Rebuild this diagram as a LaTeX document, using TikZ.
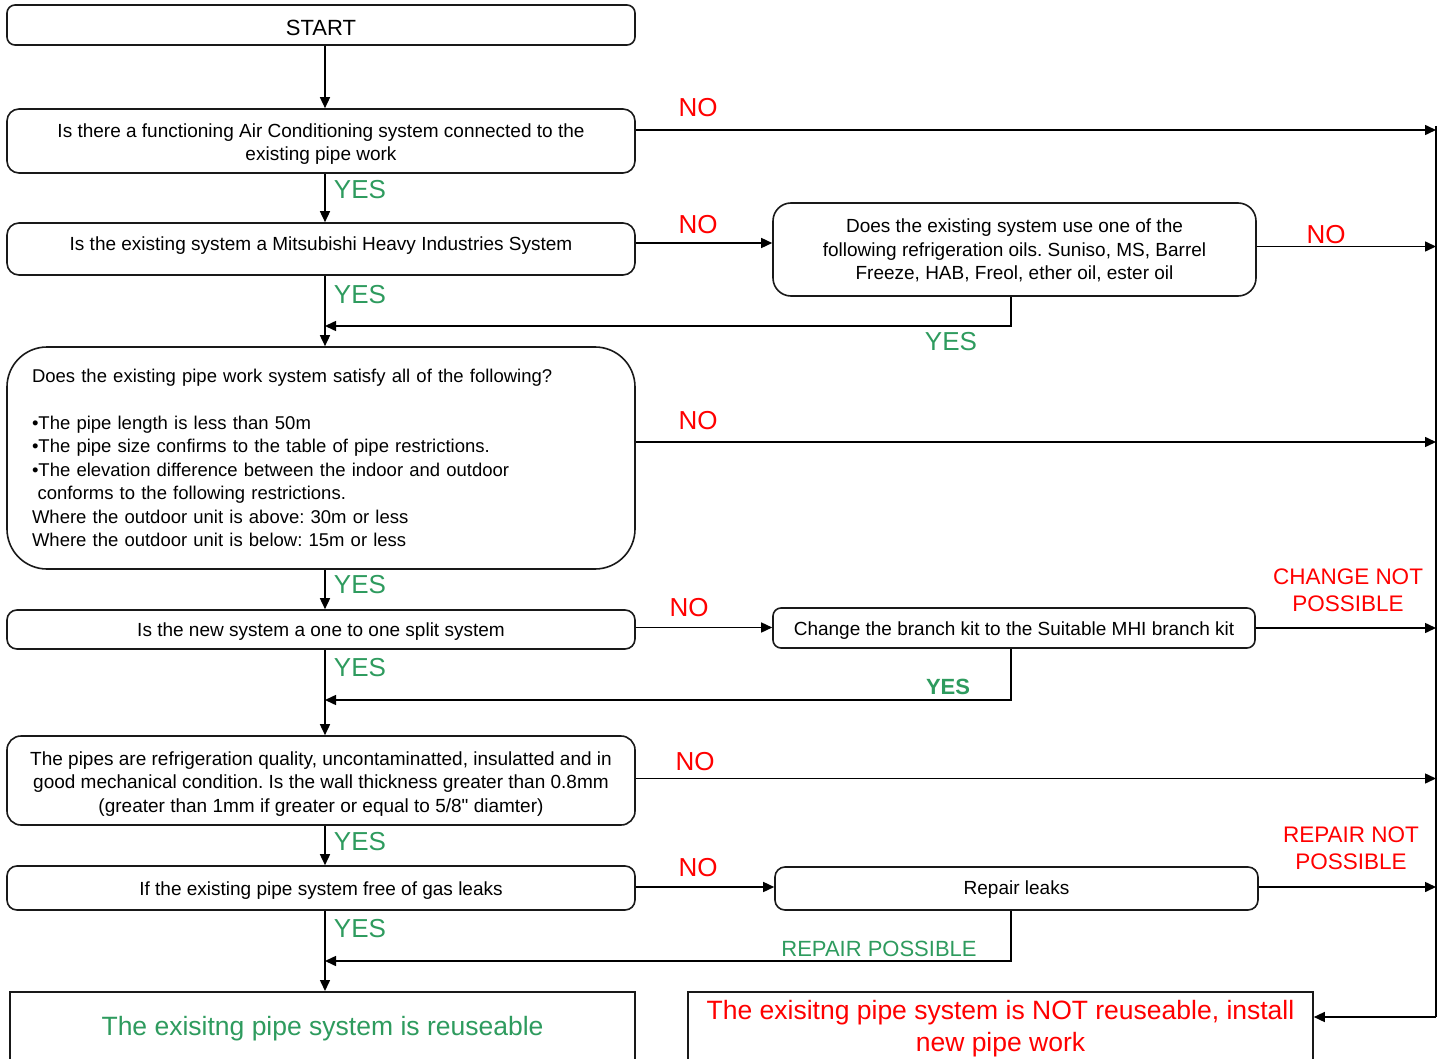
\documentclass[tikz,border=0pt]{standalone}
\usepackage{fontspec}
\setmainfont{Liberation Sans}
\usetikzlibrary{arrows.meta}
\definecolor{yesgreen}{RGB}{46,155,94}
\newcommand{\upstrut}[1]{\rule{0pt}{#1}}
\newcommand{\dnstrut}[1]{\rule[-#1]{0pt}{#1}}
\begin{document}
\frenchspacing
\begin{tikzpicture}[x=1pt,y=-1pt,
  box/.style={draw=black!90, line width=1.6pt, rounded corners=#1, align=center, inner sep=2pt, font=\fontsize{19}{23.5}\selectfont},
  box/.default=8pt,
  endbox/.style={draw=black!90, line width=1.6pt, anchor=north, minimum width=625pt, align=center, font=\fontsize{26.5}{32}\selectfont},
  arr/.style={line width=1.5pt, -{Triangle[length=11pt,width=10pt]}},
  plain/.style={line width=1.5pt},
  nolab/.style={text=red, font=\fontsize{26}{30}\selectfont, inner sep=0pt},
  yeslab/.style={text=yesgreen, font=\fontsize{26}{30}\selectfont, inner sep=0pt},
  smallred/.style={text=red, font=\fontsize{22.5}{27}\selectfont, inner sep=0pt, align=center},
]
\useasboundingbox (0,0) rectangle (1445,1059);
\clip (0,0) rectangle (1445,1059);

% boxes
\node[box, minimum width=628pt, minimum height=40pt, font=\fontsize{22}{26}\selectfont] (start) at (321,25) {\upstrut{21.8pt}START};
\node[box=12pt, minimum width=628pt, minimum height=64pt] (q1) at (321,141)
  {\upstrut{20pt}Is there a functioning Air Conditioning system connected to the\\existing pipe work};
\node[box=12pt, minimum width=628pt, minimum height=52pt] (q2) at (321,249)
  {\dnstrut{10pt}Is the existing system a Mitsubishi Heavy Industries System};
\node[box=18pt, minimum width=483pt, minimum height=93pt] (oil) at (1014.5,249.5)
  {\upstrut{16pt}Does the existing system use one of the\\following refrigeration oils. Suniso, MS, Barrel\\Freeze, HAB, Freol, ether oil, ester oil};
\node[box=40pt, minimum width=628pt, minimum height=222pt, align=left, text width=578pt, inner xsep=25pt, font=\fontsize{18.5}{23.5}\selectfont] (q3) at (321,458)
  {Does the existing pipe work system satisfy all of the following?\\[23.5pt]
   •The pipe length is less than 50m\\
   •The pipe size confirms to the table of pipe restrictions.\\
   •The elevation difference between the indoor and outdoor\\
   \hspace*{5.5pt}conforms to the following restrictions.\\
   Where the outdoor unit is above: 30m or less\\
   Where the outdoor unit is below: 15m or less};
\node[box=10pt, minimum width=628pt, minimum height=39pt] (q4) at (321,629.5)
  {\upstrut{18pt}Is the new system a one to one split system};
\node[box=8pt, minimum width=482pt, minimum height=40pt] (branch) at (1014,628)
  {\upstrut{18pt}Change the branch kit to the Suitable MHI branch kit};
\node[box=14pt, minimum width=628pt, minimum height=89pt] (q5) at (321,780.5)
  {\upstrut{20.5pt}The pipes are refrigeration quality, uncontaminatted, insulatted and in\\good mechanical condition. Is the wall thickness greater than 0.8mm\\(greater than 1mm if greater or equal to 5/8\XeTeXglyph\XeTeXcharglyph"22\relax{} diamter)};
\node[box=10pt, minimum width=628pt, minimum height=44pt] (q6) at (321,888)
  {\upstrut{18pt}If the existing pipe system free of gas leaks};
\node[box=10pt, minimum width=483pt, minimum height=43pt] (repair) at (1016.5,888.5)
  {\upstrut{16pt}Repair leaks};
\node[endbox, text=yesgreen, inner ysep=24pt, text depth=60pt] (good) at (322.5,991)
  {The exisitng pipe system is reuseable};
\node[endbox, text=red, inner ysep=8pt, text depth=50pt] (bad) at (1000.5,991)
  {The exisitng pipe system is NOT reuseable, install\\new pipe work};

% junctions
\coordinate (rt) at (1436,126);
\coordinate (rb) at (1436,1017);
\coordinate (j1) at (325,326);
\coordinate (j2) at (325,700);
\coordinate (j3) at (325,961);

% connectors
\draw[arr] ([xshift=4pt]start.south) -- ([xshift=4pt]q1.north);
\draw[arr] ([xshift=4pt]q1.south) -- ([xshift=4pt]q2.north);
\draw[arr] ([xshift=4pt]q2.south) -- ([xshift=4pt]q3.north);
\draw[arr] ([yshift=6pt]q2.east) -- ([yshift=6pt]q2.east -| oil.west);
\draw[arr] ([xshift=-3.5pt]oil.south) |- (j1);
\draw[plain] (rt) -- (rb);
\draw[arr] ([yshift=11pt]q1.east) -- ([yshift=11pt]q1.east -| rt);
\draw[arr] ([yshift=3pt]oil.east) -- ([yshift=3pt]oil.east -| rt);
\draw[arr] ([yshift=16pt]q3.east) -- ([yshift=16pt]q3.east -| rt);
\draw[arr] ([xshift=4pt]q3.south) -- ([xshift=4pt]q4.north);
\draw[arr] ([yshift=2pt]q4.east) -- ([yshift=2pt]q4.east -| branch.west);
\draw[arr] (branch.east) -- (branch.east -| rt);
\draw[arr] ([xshift=-3pt]branch.south) |- (j2);
\draw[arr] ([xshift=4pt]q4.south) -- ([xshift=4pt]q5.north);
\draw[arr] ([yshift=2pt]q5.east) -- ([yshift=2pt]q5.east -| rt);
\draw[arr] ([xshift=4pt]q5.south) -- ([xshift=4pt]q6.north);
\draw[arr] ([yshift=1pt]q6.east) -- ([yshift=1pt]q6.east -| repair.west);
\draw[arr] ([yshift=1.5pt]repair.east) -- ([yshift=1.5pt]repair.east -| rt);
\draw[arr] ([xshift=-5.5pt]repair.south) |- (j3);
\draw[arr] ([xshift=4pt]q6.south) -- ([xshift=4pt]q6.south |- good.north);
\draw[arr] (rb) -- (rb -| bad.east);

% labels
\node[nolab] (n1) at (698,108) {NO};
\node[yeslab] (y1) at (360,190) {YES};
\node[nolab] (n2) at (698,225) {NO};
\node[nolab] (n2b) at (1326,235) {NO};
\node[yeslab] (y2b) at (951,342) {YES};
\node[yeslab] (y2) at (360,295) {YES};
\node[nolab] (n3) at (698,421) {NO};
\node[yeslab] (y3) at (360,585) {YES};
\node[nolab] (n4) at (689,608) {NO};
\node[smallred] (cnp) at (1348,590) {CHANGE NOT\\POSSIBLE};
\node[text=yesgreen, font=\fontsize{22}{26}\selectfont\bfseries, inner sep=0pt] (y4b) at (948,687) {YES};
\node[yeslab] (y4) at (360,668) {YES};
\node[nolab] (n5) at (695,762) {NO};
\node[yeslab] (y5) at (360,842) {YES};
\node[nolab] (n6) at (698,868) {NO};
\node[smallred] (rnp) at (1351,848) {REPAIR NOT\\POSSIBLE};
\node[text=yesgreen, font=\fontsize{22}{26}\selectfont, inner sep=0pt] (rp) at (879,949) {REPAIR POSSIBLE};
\node[yeslab] (y6) at (360,929) {YES};
\end{tikzpicture}
\end{document}
